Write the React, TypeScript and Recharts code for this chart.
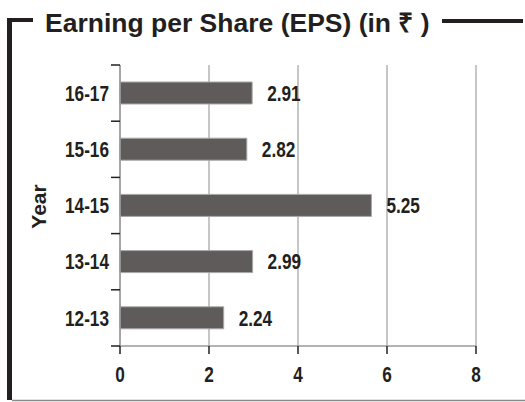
import { BarChart, Bar, XAxis, YAxis, CartesianGrid, LabelList } from 'recharts'

// years bottom -> top
const YEARS = ['12-13', '13-14', '14-15', '15-16', '16-17']
// bar lengths as drawn in the picture
const EPS = [2.33, 2.98, 5.65, 2.85, 2.97]
// value labels printed next to each bar
const EPS_LABELS = ['2.24', '2.99', '5.25', '2.82', '2.91']
const X_TICKS = [0, 2, 4, 6, 8]

const data = YEARS.map((year, i) => ({ year, eps: EPS[i] }))

const W = 525
const H = 402
const MARGIN = { top: 65, right: 49, bottom: 0, left: 0 }
const X_AXIS_H = 56
const PLOT_H = H - MARGIN.top - MARGIN.bottom - X_AXIS_H
const HALF_BAND = PLOT_H / YEARS.length / 2

const INK = '#231f20'
const SANS = "'Liberation Sans', Arial, sans-serif"

// no narrow face installed, so squeeze the bold sans horizontally
function NarrowText({ x, y, anchor = 'start', baseline = 'central', children }: any) {
  return (
    <g transform={`translate(${x},${y}) scale(0.8,1)`}>
      <text
        x={0}
        y={0}
        textAnchor={anchor}
        dominantBaseline={baseline}
        fontFamily={SANS}
        fontWeight="bold"
        fontSize={21.5}
        fill={INK}
      >
        {children}
      </text>
    </g>
  )
}

function YearTick({ x, y, payload, index }: any) {
  return (
    <g>
      <line x1={x + 2} x2={x + 11} y1={y - HALF_BAND} y2={y - HALF_BAND} stroke={INK} strokeWidth={1.5} />
      {index === 0 && (
        <line x1={x + 2} x2={x + 11} y1={y + HALF_BAND} y2={y + HALF_BAND} stroke={INK} strokeWidth={1.5} />
      )}
      <NarrowText x={x} y={y} anchor="end">
        {payload.value}
      </NarrowText>
    </g>
  )
}

function ValueTick({ x, y, payload }: any) {
  return (
    <NarrowText x={x} y={y - 1} anchor="middle" baseline="hanging">
      {payload.value}
    </NarrowText>
  )
}

function ValueLabel({ x, y, width, height, index }: any) {
  return <NarrowText x={x + width + 15} y={y + height / 2}>{EPS_LABELS[index]}</NarrowText>
}

function YearLabel({ viewBox }: any) {
  const cx = viewBox.x + 38
  const cy = viewBox.y + viewBox.height / 2 + 1
  return (
    <text
      x={cx}
      y={cy}
      transform={`rotate(-90 ${cx} ${cy})`}
      textAnchor="middle"
      dominantBaseline="central"
      fontFamily={SANS}
      fontWeight="bold"
      fontSize={21}
      fill={INK}
    >
      Year
    </text>
  )
}

export default function App() {
  return (
    <div style={{ position: 'absolute', left: 0, top: 0, width: W, height: H, background: '#fff' }}>
      <BarChart width={W} height={H} data={data} layout="vertical" margin={MARGIN}>
        <CartesianGrid horizontal={false} stroke="#b3b3b3" strokeWidth={1.5} />
        <XAxis
          type="number"
          domain={[0, 8]}
          ticks={X_TICKS}
          height={X_AXIS_H}
          axisLine={{ stroke: '#9a9a9a', strokeWidth: 1.5 }}
          tickLine={{ stroke: INK, strokeWidth: 1.5 }}
          tickSize={8}
          tickMargin={13}
          tick={<ValueTick />}
        />
        <XAxis
          xAxisId="top"
          orientation="top"
          type="number"
          domain={[0, 8]}
          height={0}
          tick={false}
          tickLine={false}
          axisLine={{ stroke: '#9a9a9a', strokeWidth: 1.5 }}
        />
        <YAxis
          type="category"
          dataKey="year"
          reversed
          width={120}
          axisLine={{ stroke: '#9a9a9a', strokeWidth: 1.5 }}
          tickLine={false}
          tickSize={9}
          tickMargin={2}
          tick={<YearTick />}
          label={<YearLabel />}
        />
        <Bar dataKey="eps" fill="#5f5b5a" stroke="#a8a8a8" strokeWidth={1} barSize={22} isAnimationActive={false}>
          <LabelList dataKey="eps" content={<ValueLabel />} />
        </Bar>
      </BarChart>
      <svg width={W} height={H} style={{ position: 'absolute', left: 0, top: 0, pointerEvents: 'none' }}>
        <rect x={7} y={18} width={26} height={4} fill={INK} />
        <rect x={7} y={18} width={5} height={382} fill={INK} />
        <rect x={442} y={19} width={81} height={4} fill={INK} />
        <line x1={12} x2={W} y1={400.5} y2={400.5} stroke="#8a8a8a" strokeWidth={1.5} />
        <text x={45} y={32} fontFamily={SANS} fontWeight="bold" fontSize={26.5} fill={INK}>
          Earning per Share (EPS) (in ₹ )
        </text>
      </svg>
    </div>
  )
}
